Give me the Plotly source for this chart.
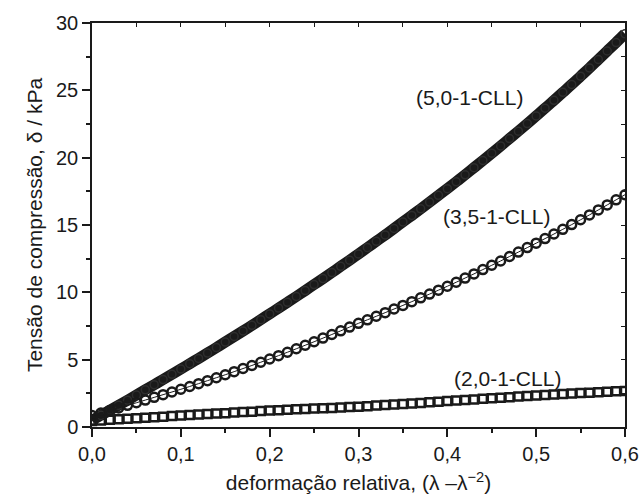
import plotly.graph_objects as go

x_vals = [0.00, 0.01, 0.02, 0.03, 0.04, 0.05, 0.06, 0.07, 0.08, 0.09,
          0.10, 0.11, 0.12, 0.13, 0.14, 0.15, 0.16, 0.17, 0.18, 0.19,
          0.20, 0.21, 0.22, 0.23, 0.24, 0.25, 0.26, 0.27, 0.28, 0.29,
          0.30, 0.31, 0.32, 0.33, 0.34, 0.35, 0.36, 0.37, 0.38, 0.39,
          0.40, 0.41, 0.42, 0.43, 0.44, 0.45, 0.46, 0.47, 0.48, 0.49,
          0.50, 0.51, 0.52, 0.53, 0.54, 0.55, 0.56, 0.57, 0.58, 0.59,
          0.60]

y_50 = [0.50, 0.87, 1.24, 1.62, 1.99, 2.37, 2.76, 3.14, 3.52, 3.91,
        4.30, 4.70, 5.09, 5.49, 5.90, 6.31, 6.72, 7.13, 7.55, 7.97,
        8.40, 8.83, 9.26, 9.69, 10.13, 10.58, 11.02, 11.47, 11.93, 12.39,
        12.85, 13.32, 13.79, 14.26, 14.74, 15.23, 15.71, 16.20, 16.70, 17.20,
        17.70, 18.21, 18.73, 19.26, 19.79, 20.33, 20.87, 21.42, 21.97, 22.53,
        23.10, 23.67, 24.26, 24.85, 25.44, 26.05, 26.66, 27.29, 27.92, 28.55,
        29.20]

y_35 = [0.85, 1.04, 1.23, 1.42, 1.61, 1.80, 2.00, 2.20, 2.40, 2.60,
        2.80, 3.01, 3.22, 3.44, 3.66, 3.88, 4.11, 4.34, 4.57, 4.81,
        5.05, 5.30, 5.55, 5.81, 6.07, 6.33, 6.60, 6.87, 7.14, 7.42,
        7.70, 7.96, 8.22, 8.49, 8.76, 9.03, 9.31, 9.59, 9.87, 10.16,
        10.45, 10.75, 11.06, 11.37, 11.69, 12.01, 12.33, 12.66, 12.99, 13.32,
        13.65, 13.99, 14.33, 14.68, 15.03, 15.39, 15.75, 16.12, 16.49, 16.87,
        17.25]

y_20 = [0.45, 0.49, 0.53, 0.57, 0.61, 0.65, 0.69, 0.73, 0.77, 0.81,
        0.85, 0.89, 0.92, 0.96, 1.00, 1.03, 1.07, 1.11, 1.14, 1.18,
        1.22, 1.25, 1.28, 1.31, 1.34, 1.37, 1.40, 1.42, 1.45, 1.48,
        1.51, 1.55, 1.59, 1.63, 1.67, 1.71, 1.75, 1.79, 1.84, 1.88,
        1.93, 1.97, 2.01, 2.05, 2.09, 2.13, 2.17, 2.21, 2.26, 2.30,
        2.34, 2.38, 2.41, 2.45, 2.48, 2.52, 2.55, 2.58, 2.62, 2.65,
        2.68]

labels = ["(5,0-1-CLL)", "(3,5-1-CLL)", "(2,0-1-CLL)"]
label_x = [0.4245, 0.455, 0.468]
label_y = [24.5, 15.6, 3.62]

x_ticks = [0.0, 0.1, 0.2, 0.3, 0.4, 0.5, 0.6]
y_ticks = [0, 5, 10, 15, 20, 25, 30]

ink = "#1a1a1a"
FONT = "Liberation Sans, Arial, sans-serif"

fig = go.Figure()

fig.add_trace(go.Scatter(
    x=x_vals, y=y_50, mode="lines+markers",
    line=dict(color=ink, width=11, shape="spline", smoothing=1.0),
    marker=dict(symbol="circle-open", size=8, color="#2e2e2e", line=dict(width=1.5, color="#2e2e2e")),
    showlegend=False, hoverinfo="skip"))

fig.add_trace(go.Scatter(
    x=x_vals, y=y_35, mode="lines+markers",
    line=dict(color=ink, width=1, shape="spline", smoothing=1.0),
    marker=dict(symbol="circle-open", size=9, color=ink, line=dict(width=2.5, color=ink)),
    showlegend=False, hoverinfo="skip"))

fig.add_trace(go.Scatter(
    x=x_vals, y=y_20, mode="markers",
    marker=dict(symbol="square-open", size=8, color=ink, line=dict(width=2.5, color=ink)),
    showlegend=False, hoverinfo="skip"))

for t, lx, ly in zip(labels, label_x, label_y):
    fig.add_annotation(x=lx, y=ly, text=t, showarrow=False,
                       font=dict(family=FONT, size=21, color=ink))

axis_common = dict(
    showline=True, linecolor=ink, linewidth=1.5,
    ticks="outside", ticklen=8, tickwidth=1.5, tickcolor=ink,
    showgrid=False, zeroline=False, automargin=False,
    tickfont=dict(family=FONT, size=20, color=ink),
)

fig.update_layout(
    width=640, height=498,
    margin=dict(l=92, r=15, t=23, b=71),
    plot_bgcolor="white", paper_bgcolor="white",
    separators=", ",
    xaxis=dict(range=[0, 0.6], tickvals=x_ticks, tickformat=".1f",
               minor=dict(ticks="outside", ticklen=4, tickwidth=1.5, tickcolor=ink, dtick=0.05, tick0=0),
               title=dict(text="deformação relativa, (λ –λ<sup>−2</sup>)",
                          font=dict(family=FONT, size=21, color=ink), standoff=12),
               **axis_common),
    yaxis=dict(range=[0, 30], tickvals=y_ticks,
               minor=dict(ticks="outside", ticklen=4, tickwidth=1.5, tickcolor=ink, dtick=2.5, tick0=0),
               title=dict(text="Tensão de compressão, δ / kPa",
                          font=dict(family=FONT, size=21, color=ink), standoff=8),
               **axis_common),
    xaxis2=dict(range=[0, 0.6], overlaying="x", side="top", showline=True, automargin=False,
                linecolor=ink, linewidth=1.5, ticks="inside", ticklen=4, tickwidth=1.2,
                tickcolor=ink, tickvals=[0.05 * i for i in range(13)],
                showticklabels=False, showgrid=False, zeroline=False),
    yaxis2=dict(range=[0, 30], overlaying="y", side="right", showline=True, automargin=False,
                linecolor=ink, linewidth=1.5, ticks="inside", ticklen=4, tickwidth=1.2,
                tickcolor=ink, tickvals=[2.5 * i for i in range(13)],
                showticklabels=False, showgrid=False, zeroline=False),
)

fig.add_trace(go.Scatter(x=[0], y=[0], xaxis="x2", yaxis="y2", mode="markers",
                         marker=dict(opacity=0), showlegend=False, hoverinfo="skip"))

fig.write_html("out.html", config={"displayModeBar": False},
               post_script="document.body.style.margin='0';document.body.style.overflow='hidden';")
